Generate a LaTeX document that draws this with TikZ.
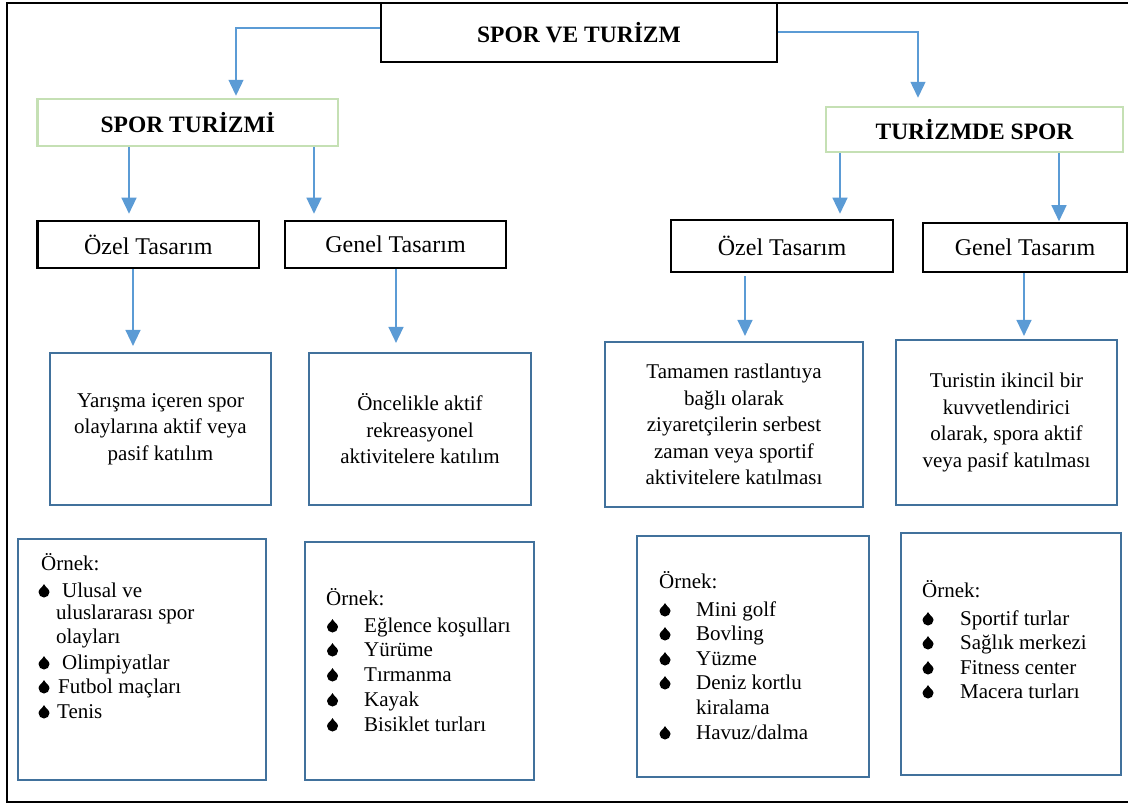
\documentclass[tikz,border=0pt]{standalone}
\usepackage{fontspec}
\setmainfont{Liberation Serif}
\usetikzlibrary{arrows.meta}
\definecolor{arrowblue}{HTML}{5B9BD5}
\definecolor{boxblue}{HTML}{41719C}
\definecolor{lightgreen}{HTML}{C5E0B4}

\begin{document}
\begin{tikzpicture}[x=1pt,y=-1pt,
  box/.style={draw, rectangle, inner sep=0pt, align=center},
  topbox/.style={box, line width=1.5pt, font=\fontsize{23.5}{28}\selectfont\bfseries},
  greenbox/.style={box, draw=lightgreen, line width=2.5pt, font=\fontsize{23.5}{28}\selectfont\bfseries},
  designbox/.style={box, line width=2.6pt, font=\fontsize{24}{28}\selectfont},
  descbox/.style={box, draw=boxblue, line width=2.2pt, font=\fontsize{21}{26.5}\selectfont},
  examplebox/.style={box, draw=boxblue, line width=2.2pt},
  item/.style={anchor=base west, inner sep=0pt, font=\fontsize{21}{25}\selectfont},
  arr/.style={draw=arrowblue, line width=1.4pt, -{Triangle[width=15pt,length=16pt]}},
  drop/.pic={\fill (0,-13) .. controls (1.2,-10) and (5.5,-8) .. (5.5,-5)
      arc[start angle=0,end angle=180,radius=5.5]
      .. controls (-5.5,-8) and (-1.2,-10) .. (0,-13) -- cycle;}
]
\useasboundingbox (0,0) rectangle (1128,804);
\clip (0,0) rectangle (1128,804);
\fill[white] (0,0) rectangle (1128,804);

% outer frame: top, left and bottom sides
\draw[line width=2pt] (1128,3) -- (7,3) -- (7,802) -- (1128,802);

% top level
\node[topbox, minimum width=396, minimum height=59] (top) at (579,32.5) {SPOR VE TURİZM};

% second level
\node[greenbox, minimum width=300.5, minimum height=47] (st) at (187.75,122.5) {SPOR TURİZMİ};
\node[greenbox, minimum width=297, minimum height=45] (ts) at (974.5,129.5) {TURİZMDE SPOR};

% design types
\node[designbox, minimum width=221.5, minimum height=47] (o1) at (148.25,244.5) {Özel Tasarım};
\node[designbox, minimum width=221, minimum height=47] (g1) at (395.5,244.5) {Genel Tasarım};
\node[designbox, minimum width=222, minimum height=52] (o2) at (782,246) {Özel Tasarım};
\node[designbox, minimum width=204, minimum height=49] (g2) at (1025,247.5) {Genel Tasarım};

% descriptions
\node[descbox, minimum width=221, minimum height=152] (d1) at (160.5,429)
  {Yarışma içeren spor\\olaylarına aktif veya\\pasif katılım};
\node[descbox, minimum width=222, minimum height=152] (d2) at (420,429)
  {Öncelikle aktif\\rekreasyonel\\aktivitelere katılım};
\node[descbox, minimum width=258, minimum height=165] (d3) at (734,424.5)
  {Tamamen rastlantıya\\bağlı olarak\\ziyaretçilerin serbest\\zaman veya sportif\\aktivitelere katılması};
\node[descbox, minimum width=221, minimum height=165] (d4) at (1006.5,422.5)
  {Turistin ikincil bir\\kuvvetlendirici\\olarak, spora aktif\\veya pasif katılması};

% example boxes
\node[examplebox, minimum width=248, minimum height=241] (e1) at (142,659.5) {};
\node[examplebox, minimum width=229, minimum height=238] (e2) at (419.5,661) {};
\node[examplebox, minimum width=232, minimum height=241] (e3) at (753,656.5) {};
\node[examplebox, minimum width=220, minimum height=242] (e4) at (1011,654) {};

% examples: sport tourism, special
\node[item] (e1h) at (41,570) {Örnek:};
\pic at (44,597) {drop}; \node[item] (e1a) at (62,597) {Ulusal ve};
\node[item] (e1b) at (56,619) {uluslararası spor};
\node[item] (e1c) at (56,643) {olayları};
\pic at (44,669) {drop}; \node[item] (e1d) at (62,669) {Olimpiyatlar};
\pic at (44,693) {drop}; \node[item] (e1e) at (58,693) {Futbol maçları};
\pic at (44,718) {drop}; \node[item] (e1f) at (57,718) {Tenis};

% examples: sport tourism, general
\node[item] (e2h) at (326,605) {Örnek:};
\pic at (332.5,632) {drop}; \node[item] (e2a) at (364,632) {Eğlence koşulları};
\pic at (332.5,656) {drop}; \node[item] (e2b) at (364,656) {Yürüme};
\pic at (332.5,681) {drop}; \node[item] (e2c) at (364,681) {Tırmanma};
\pic at (332.5,706) {drop}; \node[item] (e2d) at (364,706) {Kayak};
\pic at (332.5,731) {drop}; \node[item] (e2e) at (364,731) {Bisiklet turları};

% examples: sport in tourism, special
\node[item] (e3h) at (659,588) {Örnek:};
\pic at (665,616) {drop}; \node[item] (e3a) at (696,616) {Mini golf};
\pic at (665,640) {drop}; \node[item] (e3b) at (696,640) {Bovling};
\pic at (665,665) {drop}; \node[item] (e3c) at (696,665) {Yüzme};
\pic at (665,689) {drop}; \node[item] (e3d) at (696,689) {Deniz kortlu};
\node[item] (e3e) at (696,714) {kiralama};
\pic at (665,739) {drop}; \node[item] (e3f) at (696,739) {Havuz/dalma};

% examples: sport in tourism, general
\node[item] (e4h) at (922,597) {Örnek:};
\pic at (928,625) {drop}; \node[item] (e4a) at (960,625) {Sportif turlar};
\pic at (928,649) {drop}; \node[item] (e4b) at (960,649) {Sağlık merkezi};
\pic at (928,674) {drop}; \node[item] (e4c) at (960,674) {Fitness center};
\pic at (928,698) {drop}; \node[item] (e4d) at (960,698) {Macera turları};

% connector columns
\coordinate (la) at (236,28);
\coordinate (ra) at (918,32);
\coordinate (x1) at (129,0);
\coordinate (x2) at (314,0);
\coordinate (x3) at (840,0);
\coordinate (x4) at (1059,0);
\coordinate (x5) at (133,0);
\coordinate (x6) at (396,0);
\coordinate (x7) at (745,0);
\coordinate (x8) at (1024,0);

% connectors
\draw[arr, shorten >=2pt] (top.west |- la) -| (la |- st.north);
\draw[arr, shorten >=8pt] (top.east |- ra) -| (ra |- ts.north);
\draw[arr, shorten >=6pt] (x1 |- st.south) -- (x1 |- o1.north);
\draw[arr, shorten >=6pt] (x2 |- st.south) -- (x2 |- g1.north);
\draw[arr, shorten >=5pt] (x3 |- ts.south) -- (x3 |- o2.north);
\draw[arr, shorten >=0.5pt] (x4 |- ts.south) -- (x4 |- g2.north);
\draw[arr, shorten >=6pt] (x5 |- o1.south) -- (x5 |- d1.north);
\draw[arr, shorten >=9pt] (x6 |- g1.south) -- (x6 |- d2.north);
\draw[arr, shorten <=3pt, shorten >=5pt] (x7 |- o2.south) -- (x7 |- d3.north);
\draw[arr, shorten >=3pt] (x8 |- g2.south) -- (x8 |- d4.north);
\end{tikzpicture}
\end{document}
